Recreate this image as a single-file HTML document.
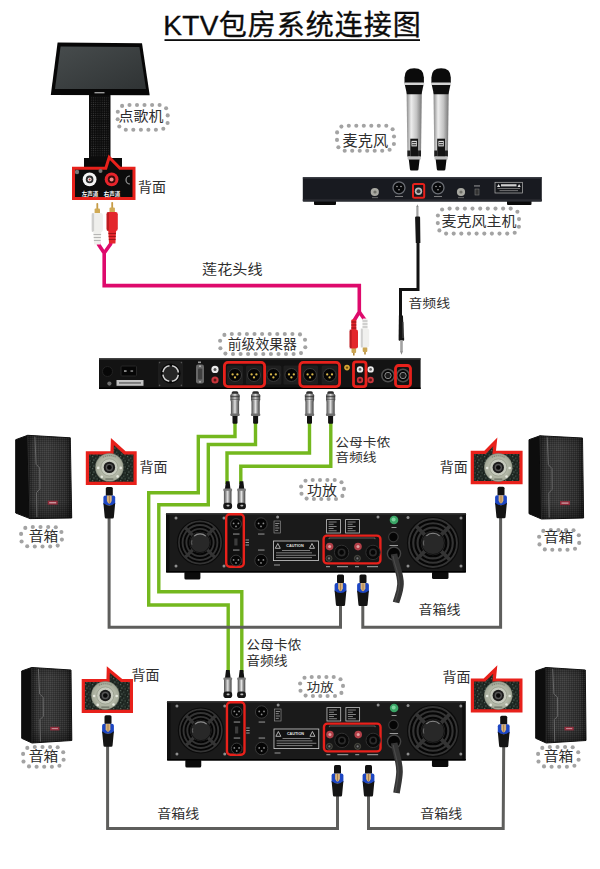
<!DOCTYPE html>
<html lang="zh-CN">
<head>
<meta charset="utf-8">
<title>KTV包房系统连接图</title>
<style>
html,body{margin:0;padding:0;background:#fff;}
body{width:600px;height:869px;overflow:hidden;font-family:"Liberation Sans","Noto Sans CJK SC",sans-serif;}
svg{display:block;}
.t{font-family:"Liberation Sans","Noto Sans CJK SC",sans-serif;fill:#2e2e2e;}
.green{fill:none;stroke:#74b81e;stroke-width:3.4;stroke-linejoin:miter;}
.gray{fill:none;stroke:#5e5e5c;stroke-width:3;stroke-linejoin:miter;}
.mag{fill:none;stroke:#de0a6c;stroke-width:3.6;stroke-linejoin:miter;}
.blk{fill:none;stroke:#111;stroke-width:3;stroke-linejoin:miter;}
.red{fill:none;stroke:#e8211b;stroke-width:2.8;}
</style>
</head>
<body>
<svg width="600" height="869" viewBox="0 0 600 869">
<defs>
<linearGradient id="silver" x1="0" x2="1" y1="0" y2="0">
<stop offset="0" stop-color="#4e4e4e"/><stop offset=".3" stop-color="#a4a4a4"/><stop offset=".5" stop-color="#e2e2e2"/><stop offset=".68" stop-color="#9a9a9a"/><stop offset="1" stop-color="#454545"/>
</linearGradient>
<linearGradient id="micbody" x1="0" x2="1" y1="0" y2="0">
<stop offset="0" stop-color="#8a8a8a"/><stop offset=".3" stop-color="#ededed"/><stop offset=".65" stop-color="#c4c4c4"/><stop offset="1" stop-color="#777"/>
</linearGradient>
<radialGradient id="plate" cx=".5" cy=".5" r=".5">
<stop offset="0" stop-color="#bcc1b1"/><stop offset=".7" stop-color="#b2b7a6"/><stop offset=".92" stop-color="#a4aa99"/><stop offset="1" stop-color="#7c8274"/>
</radialGradient>
<pattern id="mesh" width="2" height="2" patternUnits="userSpaceOnUse"><rect width="2" height="2" fill="#000" fill-opacity="0"/><rect width="1" height="1" fill="#fff" fill-opacity=".07"/><rect x="1" y="1" width="1" height="1" fill="#000" fill-opacity=".18"/></pattern>
<pattern id="speck" width="7" height="6" patternUnits="userSpaceOnUse"><rect width="7" height="6" fill="#1f2823"/><rect x="1" y="0" width="1.2" height="1.2" fill="#4f5f55"/><rect x="4" y="1.6" width="1.4" height="1" fill="#43524a"/><rect x="2.4" y="3.4" width="1" height="1.3" fill="#5a6a60"/><rect x="5.6" y="4.4" width="1.1" height="1.1" fill="#4a5a50"/><rect x="0" y="4.6" width="1" height="1" fill="#10150f"/><rect x="3.2" y="0.4" width="1" height="1" fill="#0f140f"/></pattern>
<pattern id="standmesh" width="2.2" height="2.2" patternUnits="userSpaceOnUse"><rect width="2.2" height="2.2" fill="#0c0c0c"/><circle cx="1.1" cy="1.1" r=".55" fill="#3a3a3a"/></pattern>
<linearGradient id="grille" x1="0" x2="1" y1="0" y2="0">
<stop offset="0" stop-color="#1c1c1c"/><stop offset=".14" stop-color="#353535"/><stop offset=".45" stop-color="#3b3b3b"/><stop offset=".85" stop-color="#2d2d2d"/><stop offset="1" stop-color="#151515"/>
</linearGradient>
<linearGradient id="vshade" x1="0" x2="0" y1="0" y2="1"><stop offset="0" stop-color="#000" stop-opacity=".25"/><stop offset=".12" stop-color="#000" stop-opacity="0"/><stop offset=".8" stop-color="#000" stop-opacity="0"/><stop offset="1" stop-color="#000" stop-opacity=".4"/></linearGradient>
<linearGradient id="screen" x1="0" x2="1" y1="0" y2="1">
<stop offset="0" stop-color="#474c4d"/><stop offset="1" stop-color="#2f3334"/>
</linearGradient>
</defs>
<rect width="600" height="869" fill="#fff"/>

<text x="163.2" y="34.5" font-size="28" class="t" style="fill:#0c0c0c;stroke:#0c0c0c;stroke-width:.35px"><tspan letter-spacing="0.4">KTV</tspan><tspan letter-spacing="1.0">包房系统连接图</tspan></text>
<rect x="164.5" y="39.2" width="255.5" height="1.8" fill="#0c0c0c"/>
<path class="mag" d="M98,240 L98.6,244.5 L104.2,253 L104.2,285.6 L359.3,285.6 L359.3,312 L353.8,321"/>
<path class="mag" d="M111.5,239 L110.6,244 L104.2,253"/>
<path class="mag" d="M359.3,312 L365,320"/>
<path class="blk" d="M418,236 L418,289.5 L400.5,289.5 L400.5,320"/>
<path class="green" d="M235,422 L235,436.5 L198.3,436.5 L198.3,492.8 L148.7,492.8 L148.7,605 L228.2,605 L228.2,672"/>
<path class="green" d="M255.5,422 L255.5,444.5 L208.3,444.5 L208.3,504.8 L158.8,504.8 L158.8,591.8 L241.8,591.8 L241.8,672"/>
<path class="green" d="M309.5,422 L309.5,453 L227,453 L227,484"/>
<path class="green" d="M330.8,422 L330.8,466.2 L240.8,466.2 L240.8,484"/>
<path class="gray" d="M109.1,515 L109.1,627.3 L340.5,627.3 L340.5,604"/>
<path class="gray" d="M362.8,604 L362.8,627.3 L500.6,627.3 L500.6,515"/>
<path class="gray" d="M107.6,744 L107.6,828.6 L337.5,828.6 L337.5,795"/>
<path class="gray" d="M368.5,795 L368.5,828.6 L503.2,828.6 L503.7,745"/>
<rect x="84" y="158" width="38" height="9" fill="#0a0a0a"/>
<rect x="89" y="94" width="21.5" height="68" fill="#0c0c0c"/>
<rect x="90.5" y="97" width="18.5" height="60" fill="url(#standmesh)"/>
<polygon points="57.6,42.6 142,43.2 149.7,95.2 50.8,95" fill="#070707"/>
<polygon points="60.6,46.6 139.4,47 146,89 55,89" fill="url(#screen)"/>
<rect x="94.5" y="92" width="10" height="1.4" fill="#9a9a9a"/>
<path d="M73.5,168.2 L105.8,168.2 L109.2,157.3 L120,168.2 L134,168.2 L134,198.5 L73.5,198.5 Z" fill="#0c0c0c" stroke="#e8211b" stroke-width="3" stroke-linejoin="miter"/>
<circle cx="89.6" cy="179.4" r="6.9" fill="#f4f4f4"/><circle cx="89.6" cy="179.4" r="3.8" fill="#2a2a2a"/><circle cx="89.6" cy="179.4" r="2" fill="#e9e9e9"/><circle cx="89.6" cy="179.4" r="1" fill="#b33"/>
<circle cx="111.6" cy="179.4" r="6.9" fill="#e8242b"/><circle cx="111.6" cy="179.4" r="3.8" fill="#3a0c0c"/><circle cx="111.6" cy="179.4" r="2" fill="#f08a86"/>
<circle cx="77" cy="172" r="2.2" fill="#777"/><circle cx="100.5" cy="171" r="2" fill="#777"/><path d="M130,176 a4,4 0 0 0 0,8" fill="none" stroke="#999" stroke-width="1.2"/>
<text x="90" y="195.5" font-size="5.5" font-weight="bold" text-anchor="middle" fill="#fff" font-family='"Liberation Sans","Noto Sans CJK SC",sans-serif'>左声道</text>
<text x="112" y="195.5" font-size="5.5" font-weight="bold" text-anchor="middle" fill="#fff" font-family='"Liberation Sans","Noto Sans CJK SC",sans-serif'>右声道</text>
<text transform="translate(152.1,187.5) scale(1,0.95)" font-size="14" text-anchor="middle" dominant-baseline="central" class="t">背面</text>
<g fill="#a3a3a3"><circle cx="129.5" cy="105.0" r="2.05"/><circle cx="137.0" cy="105.0" r="2.05"/><circle cx="144.5" cy="105.0" r="2.05"/><circle cx="152.1" cy="105.0" r="2.05"/><circle cx="159.6" cy="105.0" r="2.05"/><circle cx="166.1" cy="108.2" r="2.05"/><circle cx="167.7" cy="115.4" r="2.05"/><circle cx="167.6" cy="123.0" r="2.05"/><circle cx="163.3" cy="128.8" r="2.05"/><circle cx="155.9" cy="129.7" r="2.05"/><circle cx="148.4" cy="129.7" r="2.05"/><circle cx="140.9" cy="129.7" r="2.05"/><circle cx="133.3" cy="129.7" r="2.05"/><circle cx="125.8" cy="129.7" r="2.05"/><circle cx="119.3" cy="126.5" r="2.05"/><circle cx="117.7" cy="119.3" r="2.05"/><circle cx="117.8" cy="111.7" r="2.05"/><circle cx="122.1" cy="105.9" r="2.05"/></g>
<text transform="translate(141,116.6) scale(1,0.9)" font-size="15" text-anchor="middle" dominant-baseline="central" class="t">点歌机</text>
<g transform="translate(97.3,203)"><rect x="-0.9" y="0" width="1.8" height="7" rx=".8" fill="#c59b45"/><rect x="-2.7" y="5.5" width="5.4" height="5.5" rx="1" fill="#d0aa55"/><rect x="-5.6" y="10" width="11.2" height="19" rx="2.2" fill="#efefec"/><rect x="-5.6" y="10" width="2.4" height="19" rx="1" fill="#a8a8a8" opacity=".45"/><path d="M-4,28 h8 l-0.8,13.5 h-6.4 z" fill="#efefec"/><rect x="-3.8" y="31" width="7.6" height="1" fill="#a8a8a8" opacity=".8"/><rect x="-3.6" y="34" width="7.2" height="1" fill="#a8a8a8" opacity=".8"/><rect x="-3.4" y="37" width="6.8" height="1" fill="#a8a8a8" opacity=".8"/></g>
<g transform="translate(112.2,202)"><rect x="-0.9" y="0" width="1.8" height="7" rx=".8" fill="#c59b45"/><rect x="-2.7" y="5.5" width="5.4" height="5.5" rx="1" fill="#d0aa55"/><rect x="-5.6" y="10" width="11.2" height="19" rx="2.2" fill="#e3262b"/><rect x="-5.6" y="10" width="2.4" height="19" rx="1" fill="#8e1015" opacity=".45"/><path d="M-4,28 h8 l-0.8,13.5 h-6.4 z" fill="#e3262b"/><rect x="-3.8" y="31" width="7.6" height="1" fill="#8e1015" opacity=".8"/><rect x="-3.6" y="34" width="7.2" height="1" fill="#8e1015" opacity=".8"/><rect x="-3.4" y="37" width="6.8" height="1" fill="#8e1015" opacity=".8"/></g>
<text transform="translate(232.3,269.3) scale(1,0.88)" font-size="15.1" text-anchor="middle" dominant-baseline="central" class="t">莲花头线</text>
<g transform="translate(414.2,0)"><path d="M-7.6,92 L7.6,92 L6.8,156.5 L-6.8,156.5 Z" fill="url(#micbody)"/><path d="M-9.7,84 L-9.7,77.5 Q-9.7,68.2 0,68.2 Q9.7,68.2 9.7,77.5 L9.7,84 Z" fill="#0b0b0b"/><path d="M-9.4,84.5 L9.4,84.5 L7.3,94.3 L-7.3,94.3 Z" fill="#0d0d0d"/><rect x="-10.1" y="82.6" width="20.2" height="2.3" rx="1" fill="#d4d4d4"/><rect x="-3.9" y="138.7" width="7.8" height="18" fill="#141414"/><rect x="-2.7" y="140.8" width="5.4" height="5.6" fill="#dadada"/><rect x="-2" y="142" width="4" height="1.1" fill="#333"/><rect x="-2" y="144.2" width="4" height="1.1" fill="#333"/><rect x="-6.8" y="150.5" width="2.9" height="6" fill="#1f1f1f"/><rect x="3.9" y="150.5" width="2.9" height="6" fill="#1f1f1f"/><rect x="-6.6" y="156.4" width="13.2" height="3.4" rx="1" fill="#bdbdbd"/><path d="M-5.4,159.6 L5.4,159.6 L4.3,169 Q4.3,170.6 2.8,170.6 L-2.8,170.6 Q-4.3,170.6 -4.3,169 Z" fill="#0b0b0b"/></g>
<g transform="translate(441.1,0)"><path d="M-7.6,92 L7.6,92 L6.8,156.5 L-6.8,156.5 Z" fill="url(#micbody)"/><path d="M-9.7,84 L-9.7,77.5 Q-9.7,68.2 0,68.2 Q9.7,68.2 9.7,77.5 L9.7,84 Z" fill="#0b0b0b"/><path d="M-9.4,84.5 L9.4,84.5 L7.3,94.3 L-7.3,94.3 Z" fill="#0d0d0d"/><rect x="-10.1" y="82.6" width="20.2" height="2.3" rx="1" fill="#d4d4d4"/><rect x="-3.9" y="138.7" width="7.8" height="18" fill="#141414"/><rect x="-2.7" y="140.8" width="5.4" height="5.6" fill="#dadada"/><rect x="-2" y="142" width="4" height="1.1" fill="#333"/><rect x="-2" y="144.2" width="4" height="1.1" fill="#333"/><rect x="-6.8" y="150.5" width="2.9" height="6" fill="#1f1f1f"/><rect x="3.9" y="150.5" width="2.9" height="6" fill="#1f1f1f"/><rect x="-6.6" y="156.4" width="13.2" height="3.4" rx="1" fill="#bdbdbd"/><path d="M-5.4,159.6 L5.4,159.6 L4.3,169 Q4.3,170.6 2.8,170.6 L-2.8,170.6 Q-4.3,170.6 -4.3,169 Z" fill="#0b0b0b"/></g>
<g fill="#a3a3a3"><circle cx="348.8" cy="125.7" r="2.05"/><circle cx="356.3" cy="125.7" r="2.05"/><circle cx="363.8" cy="125.7" r="2.05"/><circle cx="371.3" cy="125.7" r="2.05"/><circle cx="378.8" cy="125.7" r="2.05"/><circle cx="386.3" cy="125.7" r="2.05"/><circle cx="392.6" cy="129.2" r="2.05"/><circle cx="394.0" cy="136.5" r="2.05"/><circle cx="393.9" cy="144.0" r="2.05"/><circle cx="389.6" cy="149.8" r="2.05"/><circle cx="382.2" cy="150.7" r="2.05"/><circle cx="374.7" cy="150.7" r="2.05"/><circle cx="367.2" cy="150.7" r="2.05"/><circle cx="359.7" cy="150.7" r="2.05"/><circle cx="352.2" cy="150.7" r="2.05"/><circle cx="344.7" cy="150.7" r="2.05"/><circle cx="338.4" cy="147.2" r="2.05"/><circle cx="337.0" cy="139.9" r="2.05"/><circle cx="337.1" cy="132.4" r="2.05"/><circle cx="341.4" cy="126.6" r="2.05"/></g>
<text transform="translate(365.3,140.2) scale(1,1.0)" font-size="15.2" text-anchor="middle" dominant-baseline="central" class="t">麦克风</text>
<rect x="314" y="199" width="22" height="6" rx="1" fill="#0a0a0a"/><rect x="507" y="199" width="24.5" height="6" rx="1" fill="#0a0a0a"/>
<rect x="302.8" y="177" width="239" height="24.5" rx="1" fill="#181a20"/><rect x="302.8" y="199.3" width="239" height="2.2" fill="#2b2d33"/>
<rect x="302.8" y="177" width="239" height="1.5" fill="#3a3d44"/>
<circle cx="374.8" cy="192" r="4.1" fill="#a9a9a2"/><circle cx="375" cy="192" r="1.6" fill="#6f6f68"/>
<circle cx="461" cy="192" r="4.1" fill="#a9a9a2"/><circle cx="461" cy="192" r="1.6" fill="#6f6f68"/>
<rect x="372" y="197.3" width="6" height="0.8" fill="#777"/><rect x="458" y="197.3" width="6" height="0.8" fill="#777"/>
<circle cx="399" cy="187.8" r="6" fill="#08090b" stroke="#6a6d73" stroke-width="1.3"/>
<circle cx="397" cy="186.5" r=".8" fill="#aaa"/><circle cx="401" cy="186.5" r=".8" fill="#aaa"/><circle cx="399" cy="189.7" r=".8" fill="#aaa"/>
<rect x="395" y="196" width="8" height="0.9" fill="#888"/>
<circle cx="438" cy="187.8" r="6" fill="#08090b" stroke="#6a6d73" stroke-width="1.3"/>
<circle cx="436" cy="186.5" r=".8" fill="#aaa"/><circle cx="440" cy="186.5" r=".8" fill="#aaa"/><circle cx="438" cy="189.7" r=".8" fill="#aaa"/>
<rect x="434" y="196" width="8" height="0.9" fill="#888"/>
<rect x="413" y="184" width="11.2" height="13.8" rx="1.5" fill="#14161b" stroke="#e8211b" stroke-width="2"/>
<circle cx="418.5" cy="191.2" r="3.7" fill="#b9b9b9"/><circle cx="418.5" cy="191.2" r="2" fill="#3a3a3a"/>
<rect x="475" y="189" width="4" height="6" fill="#333" stroke="#777" stroke-width=".6"/><rect x="474" y="185.5" width="6" height="0.9" fill="#aaa"/>
<rect x="495" y="182.3" width="27.5" height="10.7" fill="#15171b" stroke="#b5b5b5" stroke-width=".7"/>
<rect x="501" y="184.2" width="15.5" height="2.2" fill="#cfcfcf"/><path d="M497,187 l1.6,-3 l1.6,3z M517.5,187 l1.6,-3 l1.6,3z" fill="#e6e6e6"/>
<rect x="497.5" y="188.2" width="22.5" height="0.8" fill="#8a8a8a"/><rect x="499.5" y="190.3" width="18.5" height="0.8" fill="#8a8a8a"/>
<rect x="416.3" y="206.5" width="2.2" height="11" fill="#a2a2a2"/><path d="M416.3,207 L417.4,204.2 L418.5,207z" fill="#8a8a8a"/>
<path d="M415.1,217.5 q0,-1 1,-1 h3 q1,0 1,1 l0.3,25.5 h-4.6 z" fill="#151515"/>
<g fill="#a3a3a3"><circle cx="449.6" cy="208.6" r="2.05"/><circle cx="457.3" cy="208.6" r="2.05"/><circle cx="464.9" cy="208.6" r="2.05"/><circle cx="472.5" cy="208.6" r="2.05"/><circle cx="480.2" cy="208.6" r="2.05"/><circle cx="487.8" cy="208.6" r="2.05"/><circle cx="495.5" cy="208.6" r="2.05"/><circle cx="503.1" cy="208.6" r="2.05"/><circle cx="510.7" cy="208.6" r="2.05"/><circle cx="517.4" cy="211.8" r="2.05"/><circle cx="519.0" cy="219.1" r="2.05"/><circle cx="518.9" cy="226.7" r="2.05"/><circle cx="514.7" cy="232.7" r="2.05"/><circle cx="507.2" cy="233.6" r="2.05"/><circle cx="499.5" cy="233.6" r="2.05"/><circle cx="491.9" cy="233.6" r="2.05"/><circle cx="484.3" cy="233.6" r="2.05"/><circle cx="476.6" cy="233.6" r="2.05"/><circle cx="469.0" cy="233.6" r="2.05"/><circle cx="461.3" cy="233.6" r="2.05"/><circle cx="453.7" cy="233.6" r="2.05"/><circle cx="446.1" cy="233.6" r="2.05"/><circle cx="439.4" cy="230.4" r="2.05"/><circle cx="437.8" cy="223.1" r="2.05"/><circle cx="437.9" cy="215.5" r="2.05"/><circle cx="442.1" cy="209.5" r="2.05"/></g>
<text transform="translate(479,220.8) scale(1,0.94)" font-size="15" text-anchor="middle" dominant-baseline="central" class="t">麦克风主机</text>
<text transform="translate(429.3,304) scale(1,0.9)" font-size="13.9" text-anchor="middle" dominant-baseline="central" class="t">音频线</text>
<g transform="translate(353.8,355.5) scale(1,-1)"><rect x="-0.8" y="0" width="1.6" height="4" fill="#b58a3a"/><rect x="-2.3" y="2.5" width="4.6" height="5" rx="1" fill="#caa552"/><rect x="-4.2" y="7" width="8.4" height="19" rx="2" fill="#e3262b"/><rect x="-4.2" y="7" width="2" height="19" fill="#8e1015" opacity=".5"/><rect x="-2.5" y="25" width="5" height="11" rx="1" fill="#e3262b"/><rect x="-2.5" y="27" width="5" height="1" fill="#8e1015"/><rect x="-2.5" y="30" width="5" height="1" fill="#8e1015"/><rect x="-2.5" y="33" width="5" height="1" fill="#8e1015"/></g>
<g transform="translate(365,354.5) scale(1,-1)"><rect x="-0.8" y="0" width="1.6" height="4" fill="#b58a3a"/><rect x="-2.3" y="2.5" width="4.6" height="5" rx="1" fill="#caa552"/><rect x="-4.2" y="7" width="8.4" height="19" rx="2" fill="#f0f0ee"/><rect x="-4.2" y="7" width="2" height="19" fill="#b0b0b0" opacity=".5"/><rect x="-2.5" y="25" width="5" height="11" rx="1" fill="#f0f0ee"/><rect x="-2.5" y="27" width="5" height="1" fill="#b0b0b0"/><rect x="-2.5" y="30" width="5" height="1" fill="#b0b0b0"/><rect x="-2.5" y="33" width="5" height="1" fill="#b0b0b0"/></g>
<path d="M398.9,315.5 h4 l1.3,24.2 q0,1 -1,1 h-3.6 q-1,0 -1,-1 z" fill="#151515"/><rect x="402.6" y="322" width="0.9" height="16" fill="#5a5a5a"/>
<rect x="400.2" y="340" width="2.6" height="12" fill="#a2a2a2"/><path d="M400.2,351.5 L401.5,354.8 L402.8,351.5z" fill="#8a8a8a"/>
<rect x="99" y="358.3" width="321.6" height="30.7" fill="#131313"/>
<rect x="99" y="358.3" width="321.6" height="1.4" fill="#3a3a3a"/>
<rect x="99" y="387.5" width="321.6" height="1.5" fill="#000"/>
<circle cx="107.5" cy="371.5" r="5" fill="#070707" stroke="#222" stroke-width="1"/>
<circle cx="109.4" cy="383.6" r="2.1" fill="#6f6f6f"/>
<rect x="121" y="366" width="15.5" height="10" rx="1" fill="#060606" stroke="#262626" stroke-width="1"/><rect x="124" y="370.3" width="2.6" height="1.5" fill="#a8a8a8"/><rect x="130.5" y="370.3" width="2.6" height="1.5" fill="#8a8a8a"/>
<rect x="116.5" y="380" width="27" height="5.8" fill="#c2c2c2"/><rect x="119" y="382.2" width="22" height="1.5" fill="#6a6a6a"/>
<rect x="158" y="361" width="25" height="26" rx="1.5" fill="#1d1d1d"/>
<circle cx="170.6" cy="373.5" r="10" fill="#080808"/><circle cx="170.6" cy="373.5" r="7.8" fill="#262626" stroke="#d2d2d2" stroke-width="1.5" stroke-dasharray="9.6 2.65" stroke-dashoffset="-1.3"/>
<circle cx="159.6" cy="362.6" r="0.8" fill="#555"/>
<circle cx="181.4" cy="362.6" r="0.8" fill="#555"/>
<circle cx="159.6" cy="385.4" r="0.8" fill="#555"/>
<circle cx="181.4" cy="385.4" r="0.8" fill="#555"/>
<rect x="196" y="364.5" width="8" height="19" rx="2" fill="#686868"/><rect x="198" y="368.5" width="4.2" height="11" rx="1" fill="#404040"/><circle cx="200" cy="366.2" r="0.9" fill="#bbb"/><circle cx="200" cy="381.8" r="0.9" fill="#bbb"/><rect x="198" y="361.5" width="3" height="1.6" fill="#999"/>
<circle cx="215" cy="369.4" r="3.6" fill="#e9e9e9"/><circle cx="215" cy="369.4" r="1.5" fill="#555"/>
<circle cx="215" cy="380" r="3.6" fill="#c9363c"/><circle cx="215" cy="380" r="1.5" fill="#5a1515"/>
<rect x="227" y="365.5" width="16" height="19" rx="1.5" fill="#1f1f1f"/>
<circle cx="235" cy="375" r="6.5" fill="#050505" stroke="#3a3a3a" stroke-width="1"/>
<circle cx="232.6" cy="374.4" r="1.15" fill="#d9b84a"/>
<circle cx="237.4" cy="374.4" r="1.15" fill="#d9b84a"/>
<circle cx="235" cy="377.4" r="1.15" fill="#d9b84a"/>
<rect x="246" y="365.5" width="16" height="19" rx="1.5" fill="#1f1f1f"/>
<circle cx="254" cy="375" r="6.5" fill="#050505" stroke="#3a3a3a" stroke-width="1"/>
<circle cx="251.6" cy="374.4" r="1.15" fill="#d9b84a"/>
<circle cx="256.4" cy="374.4" r="1.15" fill="#d9b84a"/>
<circle cx="254" cy="377.4" r="1.15" fill="#d9b84a"/>
<rect x="265.4" y="365.5" width="16" height="19" rx="1.5" fill="#1f1f1f"/>
<circle cx="273.4" cy="375" r="6.5" fill="#050505" stroke="#3a3a3a" stroke-width="1"/>
<circle cx="271.0" cy="374.4" r="1.15" fill="#d9b84a"/>
<circle cx="275.79999999999995" cy="374.4" r="1.15" fill="#d9b84a"/>
<circle cx="273.4" cy="377.4" r="1.15" fill="#d9b84a"/>
<rect x="283.4" y="365.5" width="16" height="19" rx="1.5" fill="#1f1f1f"/>
<circle cx="291.4" cy="375" r="6.5" fill="#050505" stroke="#3a3a3a" stroke-width="1"/>
<circle cx="289.0" cy="374.4" r="1.15" fill="#d9b84a"/>
<circle cx="293.79999999999995" cy="374.4" r="1.15" fill="#d9b84a"/>
<circle cx="291.4" cy="377.4" r="1.15" fill="#d9b84a"/>
<rect x="302" y="365.5" width="16" height="19" rx="1.5" fill="#1f1f1f"/>
<circle cx="310" cy="375" r="6.5" fill="#050505" stroke="#3a3a3a" stroke-width="1"/>
<circle cx="307.6" cy="374.4" r="1.15" fill="#d9b84a"/>
<circle cx="312.4" cy="374.4" r="1.15" fill="#d9b84a"/>
<circle cx="310" cy="377.4" r="1.15" fill="#d9b84a"/>
<rect x="321.6" y="365.5" width="16" height="19" rx="1.5" fill="#1f1f1f"/>
<circle cx="329.6" cy="375" r="6.5" fill="#050505" stroke="#3a3a3a" stroke-width="1"/>
<circle cx="327.20000000000005" cy="374.4" r="1.15" fill="#d9b84a"/>
<circle cx="332.0" cy="374.4" r="1.15" fill="#d9b84a"/>
<circle cx="329.6" cy="377.4" r="1.15" fill="#d9b84a"/>
<circle cx="347" cy="367.6" r="2.8" fill="#d8a735"/><circle cx="347" cy="367.6" r="1.2" fill="#6b4d10"/>
<circle cx="360" cy="369.4" r="3.2" fill="#ececec"/><circle cx="360" cy="369.4" r="1.4" fill="#666"/>
<circle cx="360" cy="380" r="3.2" fill="#c9363c"/><circle cx="360" cy="380" r="1.4" fill="#5a1515"/>
<circle cx="370.6" cy="369.4" r="3.2" fill="#ececec"/><circle cx="370.6" cy="369.4" r="1.4" fill="#666"/>
<circle cx="370.6" cy="380" r="3.2" fill="#c9363c"/><circle cx="370.6" cy="380" r="1.4" fill="#5a1515"/>
<circle cx="388" cy="375.5" r="6.2" fill="#050505" stroke="#4f4f4f" stroke-width="1.5"/><circle cx="388" cy="375.5" r="3.2" fill="#1a1a1a" stroke="#8a8a8a" stroke-width="1"/>
<circle cx="403" cy="375.5" r="6.2" fill="#050505" stroke="#4f4f4f" stroke-width="1.5"/><circle cx="403" cy="375.5" r="3.2" fill="#1a1a1a" stroke="#8a8a8a" stroke-width="1"/>
<rect x="224.4" y="362.4" width="40.2" height="24.2" rx="3.5" class="red"/>
<rect x="299.8" y="362.4" width="39.8" height="24.2" rx="3.5" class="red"/>
<rect x="353.5" y="361.9" width="12.5" height="24.7" rx="2.5" class="red"/>
<rect x="395.5" y="365.5" width="15" height="21" rx="3" class="red"/>
<g fill="#a3a3a3"><circle cx="231.8" cy="334.0" r="2.05"/><circle cx="239.4" cy="334.0" r="2.05"/><circle cx="246.9" cy="334.0" r="2.05"/><circle cx="254.5" cy="334.0" r="2.05"/><circle cx="262.1" cy="334.0" r="2.05"/><circle cx="269.7" cy="334.0" r="2.05"/><circle cx="277.3" cy="334.0" r="2.05"/><circle cx="284.8" cy="334.0" r="2.05"/><circle cx="292.4" cy="334.0" r="2.05"/><circle cx="300.0" cy="334.4" r="2.05"/><circle cx="305.0" cy="339.7" r="2.05"/><circle cx="305.3" cy="347.2" r="2.05"/><circle cx="301.0" cy="353.1" r="2.05"/><circle cx="293.6" cy="354.0" r="2.05"/><circle cx="286.0" cy="354.0" r="2.05"/><circle cx="278.5" cy="354.0" r="2.05"/><circle cx="270.9" cy="354.0" r="2.05"/><circle cx="263.3" cy="354.0" r="2.05"/><circle cx="255.7" cy="354.0" r="2.05"/><circle cx="248.1" cy="354.0" r="2.05"/><circle cx="240.6" cy="354.0" r="2.05"/><circle cx="233.0" cy="354.0" r="2.05"/><circle cx="225.4" cy="353.6" r="2.05"/><circle cx="220.4" cy="348.3" r="2.05"/><circle cx="220.1" cy="340.8" r="2.05"/><circle cx="224.4" cy="334.9" r="2.05"/></g>
<text transform="translate(262.3,345) scale(1,0.96)" font-size="13.8" text-anchor="middle" dominant-baseline="central" class="t">前级效果器</text>
<g transform="translate(235,391.2)"><rect x="-2.5" y="24" width="5" height="8.5" rx="1" fill="#111"/><rect x="-3.3" y="0" width="6.6" height="4" rx="1.6" fill="#2c2c2c"/><rect x="-4.6" y="2.6" width="9.2" height="7.6" rx="1.5" fill="url(#silver)"/><rect x="-4.6" y="4.6" width="9.2" height="1.5" fill="#333" opacity=".75"/><rect x="-4.6" y="7.6" width="9.2" height="1.1" fill="#444" opacity=".6"/><rect x="-4.1" y="9.8" width="8.2" height="13.4" fill="url(#silver)"/><rect x="-4.7" y="22.2" width="9.4" height="2.6" rx="1" fill="#6c6c6c"/></g>
<g transform="translate(255.6,391.2)"><rect x="-2.5" y="24" width="5" height="8.5" rx="1" fill="#111"/><rect x="-3.3" y="0" width="6.6" height="4" rx="1.6" fill="#2c2c2c"/><rect x="-4.6" y="2.6" width="9.2" height="7.6" rx="1.5" fill="url(#silver)"/><rect x="-4.6" y="4.6" width="9.2" height="1.5" fill="#333" opacity=".75"/><rect x="-4.6" y="7.6" width="9.2" height="1.1" fill="#444" opacity=".6"/><rect x="-4.1" y="9.8" width="8.2" height="13.4" fill="url(#silver)"/><rect x="-4.7" y="22.2" width="9.4" height="2.6" rx="1" fill="#6c6c6c"/></g>
<g transform="translate(309.5,391.2)"><rect x="-2.5" y="24" width="5" height="8.5" rx="1" fill="#111"/><rect x="-3.3" y="0" width="6.6" height="4" rx="1.6" fill="#2c2c2c"/><rect x="-4.6" y="2.6" width="9.2" height="7.6" rx="1.5" fill="url(#silver)"/><rect x="-4.6" y="4.6" width="9.2" height="1.5" fill="#333" opacity=".75"/><rect x="-4.6" y="7.6" width="9.2" height="1.1" fill="#444" opacity=".6"/><rect x="-4.1" y="9.8" width="8.2" height="13.4" fill="url(#silver)"/><rect x="-4.7" y="22.2" width="9.4" height="2.6" rx="1" fill="#6c6c6c"/></g>
<g transform="translate(330.6,391.2)"><rect x="-2.5" y="24" width="5" height="8.5" rx="1" fill="#111"/><rect x="-3.3" y="0" width="6.6" height="4" rx="1.6" fill="#2c2c2c"/><rect x="-4.6" y="2.6" width="9.2" height="7.6" rx="1.5" fill="url(#silver)"/><rect x="-4.6" y="4.6" width="9.2" height="1.5" fill="#333" opacity=".75"/><rect x="-4.6" y="7.6" width="9.2" height="1.1" fill="#444" opacity=".6"/><rect x="-4.1" y="9.8" width="8.2" height="13.4" fill="url(#silver)"/><rect x="-4.7" y="22.2" width="9.4" height="2.6" rx="1" fill="#6c6c6c"/></g>
<g transform="translate(227.7,481.2)"><path d="M-1.8,0 h3.6 l1,8 h-5.6 z" fill="#111"/><rect x="-4.4" y="7.4" width="8.8" height="2.6" rx="1" fill="#7a7a7a"/><rect x="-3.8" y="9.6" width="7.6" height="13" fill="url(#silver)"/><rect x="-4.4" y="21.6" width="8.8" height="6.4" rx="2.8" fill="#161616"/><rect x="-1.2" y="23.6" width="3" height="1.6" rx=".8" fill="#bdbdbd"/></g>
<g transform="translate(241.5,481.2)"><path d="M-1.8,0 h3.6 l1,8 h-5.6 z" fill="#111"/><rect x="-4.4" y="7.4" width="8.8" height="2.6" rx="1" fill="#7a7a7a"/><rect x="-3.8" y="9.6" width="7.6" height="13" fill="url(#silver)"/><rect x="-4.4" y="21.6" width="8.8" height="6.4" rx="2.8" fill="#161616"/><rect x="-1.2" y="23.6" width="3" height="1.6" rx=".8" fill="#bdbdbd"/></g>
<g transform="translate(227.8,670)"><path d="M-1.8,0 h3.6 l1,8 h-5.6 z" fill="#111"/><rect x="-4.4" y="7.4" width="8.8" height="2.6" rx="1" fill="#7a7a7a"/><rect x="-3.8" y="9.6" width="7.6" height="13" fill="url(#silver)"/><rect x="-4.4" y="21.6" width="8.8" height="6.4" rx="2.8" fill="#161616"/><rect x="-1.2" y="23.6" width="3" height="1.6" rx=".8" fill="#bdbdbd"/></g>
<g transform="translate(241.5,670)"><path d="M-1.8,0 h3.6 l1,8 h-5.6 z" fill="#111"/><rect x="-4.4" y="7.4" width="8.8" height="2.6" rx="1" fill="#7a7a7a"/><rect x="-3.8" y="9.6" width="7.6" height="13" fill="url(#silver)"/><rect x="-4.4" y="21.6" width="8.8" height="6.4" rx="2.8" fill="#161616"/><rect x="-1.2" y="23.6" width="3" height="1.6" rx=".8" fill="#bdbdbd"/></g>
<text transform="translate(335.2,442.3) scale(1,0.9)" font-size="13.8" text-anchor="start" dominant-baseline="central" class="t">公母卡侬</text>
<text transform="translate(335.2,457.7) scale(1,0.9)" font-size="13.8" text-anchor="start" dominant-baseline="central" class="t">音频线</text>
<text transform="translate(246.2,645) scale(1,0.92)" font-size="13.8" text-anchor="start" dominant-baseline="central" class="t">公母卡侬</text>
<text transform="translate(246.2,660.3) scale(1,0.92)" font-size="13.8" text-anchor="start" dominant-baseline="central" class="t">音频线</text>
<g transform="translate(166,513) scale(1.0,1)">
<rect x="18.4" y="58.5" width="16" height="8" rx="1.5" fill="#0b0b0b"/>
<rect x="266" y="58.5" width="16.5" height="7.5" rx="1.5" fill="#0b0b0b"/>
<rect x="0" y="0" width="300" height="59.5" rx="1.2" fill="#0e0e0e"/>
<rect x="3.5" y="1.5" width="293" height="56.5" fill="#1a1a1a"/>
<rect x="0" y="0" width="300" height="1.5" fill="#3a3a3a"/>
<rect x="0" y="58.0" width="300" height="1.5" fill="#000"/>
<circle cx="34" cy="29.5" r="22.5" fill="#343434"/>
<circle cx="34" cy="29.5" r="22.5" fill="none" stroke="#0a0a0a" stroke-width="1.2"/>
<circle cx="34" cy="29.5" r="19.35" fill="none" stroke="#050505" stroke-width="1.91"/>
<circle cx="34" cy="29.5" r="15.52" fill="none" stroke="#050505" stroke-width="1.91"/>
<circle cx="34" cy="29.5" r="11.70" fill="none" stroke="#050505" stroke-width="1.91"/>
<line x1="40.4" y1="35.9" x2="49.1" y2="44.6" stroke="#343434" stroke-width="3.38"/>
<line x1="27.6" y1="35.9" x2="18.9" y2="44.6" stroke="#343434" stroke-width="3.38"/>
<line x1="27.6" y1="23.1" x2="18.9" y2="14.4" stroke="#343434" stroke-width="3.38"/>
<line x1="40.4" y1="23.1" x2="49.1" y2="14.4" stroke="#343434" stroke-width="3.38"/>
<circle cx="34" cy="29.5" r="10.12" fill="#282828" stroke="#111" stroke-width="1"/>
<path d="M28.15,23.20 a8.55,8.55 0 0 1 11.70,0" fill="none" stroke="#8a8a8a" stroke-width="1.1"/>
<path d="M25.90,27.25 a8.55,8.55 0 0 0 0,4.50" fill="none" stroke="#6a6a6a" stroke-width="0.9"/>
<circle cx="267" cy="30" r="25.5" fill="#343434"/>
<circle cx="267" cy="30" r="25.5" fill="none" stroke="#0a0a0a" stroke-width="1.2"/>
<circle cx="267" cy="30" r="21.93" fill="none" stroke="#050505" stroke-width="2.17"/>
<circle cx="267" cy="30" r="17.59" fill="none" stroke="#050505" stroke-width="2.17"/>
<circle cx="267" cy="30" r="13.26" fill="none" stroke="#050505" stroke-width="2.17"/>
<line x1="274.2" y1="37.2" x2="284.1" y2="47.1" stroke="#343434" stroke-width="3.82"/>
<line x1="259.8" y1="37.2" x2="249.9" y2="47.1" stroke="#343434" stroke-width="3.82"/>
<line x1="259.8" y1="22.8" x2="249.9" y2="12.9" stroke="#343434" stroke-width="3.82"/>
<line x1="274.2" y1="22.8" x2="284.1" y2="12.9" stroke="#343434" stroke-width="3.82"/>
<circle cx="267" cy="30" r="11.47" fill="#282828" stroke="#111" stroke-width="1"/>
<path d="M260.37,22.86 a9.69,9.69 0 0 1 13.26,0" fill="none" stroke="#8a8a8a" stroke-width="1.1"/>
<path d="M257.82,27.45 a9.69,9.69 0 0 0 0,5.10" fill="none" stroke="#6a6a6a" stroke-width="0.9"/>
<circle cx="10" cy="5" r="1.5" fill="#8f8f8f"/>
<circle cx="10" cy="53" r="1.5" fill="#8f8f8f"/>
<circle cx="58" cy="5" r="1.5" fill="#8f8f8f"/>
<circle cx="58" cy="53" r="1.5" fill="#8f8f8f"/>
<circle cx="111.6" cy="4" r="1.5" fill="#8f8f8f"/>
<circle cx="212" cy="4" r="1.5" fill="#8f8f8f"/>
<circle cx="242" cy="4.5" r="1.5" fill="#8f8f8f"/>
<circle cx="242" cy="53" r="1.5" fill="#8f8f8f"/>
<circle cx="295" cy="5" r="1.5" fill="#8f8f8f"/>
<circle cx="295" cy="53" r="1.5" fill="#8f8f8f"/>
<rect x="60.2" y="1.2" width="17.6" height="52.6" rx="3.5" fill="#101010" stroke="#e8211b" stroke-width="2.4"/>
<circle cx="70" cy="11" r="5.4" fill="#050505" stroke="#3a3a3a" stroke-width="1"/>
<circle cx="67.6" cy="10.4" r="0.9" fill="#8c8c8c"/>
<circle cx="72.4" cy="10.4" r="0.9" fill="#8c8c8c"/>
<circle cx="70" cy="13.4" r="0.9" fill="#8c8c8c"/>
<circle cx="70" cy="47.5" r="5.4" fill="#050505" stroke="#3a3a3a" stroke-width="1"/>
<circle cx="67.6" cy="46.9" r="0.9" fill="#8c8c8c"/>
<circle cx="72.4" cy="46.9" r="0.9" fill="#8c8c8c"/>
<circle cx="70" cy="49.9" r="0.9" fill="#8c8c8c"/>
<rect x="68.3" y="25.5" width="3.2" height="7" fill="#3c3c3c"/>
<rect x="67" y="20.5" width="6.5" height="1.1" fill="#8e8e8e"/>
<rect x="67" y="36.5" width="6.5" height="1.1" fill="#8e8e8e"/>
<rect x="79.5" y="26.5" width="3.5" height="1" fill="#9a9a9a"/><rect x="79.5" y="29" width="3.5" height="1" fill="#9a9a9a"/><rect x="79.5" y="31.5" width="3.5" height="1" fill="#9a9a9a"/>
<circle cx="95" cy="11" r="6.2" fill="#050505" stroke="#3a3a3a" stroke-width="1"/>
<circle cx="92.6" cy="10.4" r="0.9" fill="#8c8c8c"/>
<circle cx="97.4" cy="10.4" r="0.9" fill="#8c8c8c"/>
<circle cx="95" cy="13.4" r="0.9" fill="#8c8c8c"/>
<circle cx="95" cy="47.5" r="6.2" fill="#050505" stroke="#3a3a3a" stroke-width="1"/>
<circle cx="92.6" cy="46.9" r="0.9" fill="#8c8c8c"/>
<circle cx="97.4" cy="46.9" r="0.9" fill="#8c8c8c"/>
<circle cx="95" cy="49.9" r="0.9" fill="#8c8c8c"/>
<rect x="92" y="20.5" width="6.5" height="1.1" fill="#8e8e8e"/>
<rect x="92" y="36.5" width="6.5" height="1.1" fill="#8e8e8e"/>
<rect x="108" y="8" width="6.5" height="12" fill="none" stroke="#9a9a9a" stroke-width=".6"/>
<rect x="109.2" y="10.0" width="4.2" height="0.8" fill="#a0a0a0"/>
<rect x="109.2" y="12.3" width="3.0" height="0.8" fill="#a0a0a0"/>
<rect x="109.2" y="14.6" width="4.2" height="0.8" fill="#a0a0a0"/>
<rect x="109.2" y="16.9" width="3.0" height="0.8" fill="#a0a0a0"/>
<rect x="107.4" y="28" width="45" height="19.6" fill="#121212" stroke="#cfcfcf" stroke-width="0.8"/>
<path d="M109.3,35.3 l2.5,-4.8 l2.5,4.8 z" fill="none" stroke="#d8d8d8" stroke-width="0.8"/>
<path d="M143.5,35.3 l2.5,-4.8 l2.5,4.8 z" fill="none" stroke="#d8d8d8" stroke-width="0.8"/>
<text x="129" y="34" font-size="3.8" font-weight="bold" fill="#e4e4e4" text-anchor="middle" font-family='"Liberation Sans", "Noto Sans CJK SC", sans-serif'>CAUTION</text>
<rect x="116" y="37.0" width="28" height="0.9" fill="#8a8a8a"/>
<rect x="110" y="39.4" width="36" height="0.9" fill="#8a8a8a"/>
<rect x="110" y="41.8" width="40" height="0.9" fill="#8a8a8a"/>
<rect x="110" y="44.2" width="36" height="0.9" fill="#8a8a8a"/>
<rect x="108" y="51.5" width="6" height="1" fill="#9a9a9a"/>
<rect x="160.6" y="6.6" width="13.8" height="13.4" fill="#121212" stroke="#c4c4c4" stroke-width="0.8"/>
<rect x="162.6" y="8.6" width="8" height="0.8" fill="#a0a0a0"/>
<rect x="162.6" y="10.8" width="5" height="0.8" fill="#a0a0a0"/>
<rect x="162.6" y="13.0" width="8" height="0.8" fill="#a0a0a0"/>
<rect x="162.6" y="15.2" width="5" height="0.8" fill="#a0a0a0"/>
<rect x="162.6" y="17.4" width="8" height="0.8" fill="#a0a0a0"/>
<rect x="179.6" y="6.6" width="13.8" height="13.4" fill="#121212" stroke="#c4c4c4" stroke-width="0.8"/>
<rect x="181.6" y="8.6" width="8" height="0.8" fill="#a0a0a0"/>
<rect x="181.6" y="10.8" width="5" height="0.8" fill="#a0a0a0"/>
<rect x="181.6" y="13.0" width="8" height="0.8" fill="#a0a0a0"/>
<rect x="181.6" y="15.2" width="5" height="0.8" fill="#a0a0a0"/>
<rect x="181.6" y="17.4" width="8" height="0.8" fill="#a0a0a0"/>
<rect x="157.6" y="22.6" width="56.8" height="27.8" rx="3.5" fill="#161616" stroke="#e8211b" stroke-width="2.4"/>
<path d="M163,26.2 v-1.2 h46 v1.2" fill="none" stroke="#8d8d8d" stroke-width=".6"/>
<circle cx="163.6" cy="33.6" r="3.8" fill="#b23f48"/><circle cx="163.6" cy="33.6" r="1.5" fill="#e2a3a3"/>
<circle cx="163.0" cy="45.4" r="3" fill="#262626" stroke="#55554a" stroke-width="0.8"/><circle cx="163.0" cy="45.4" r="1.1" fill="#777"/>
<circle cx="192" cy="33.6" r="3.8" fill="#b23f48"/><circle cx="192" cy="33.6" r="1.5" fill="#e2a3a3"/>
<circle cx="191.4" cy="45.4" r="3" fill="#262626" stroke="#55554a" stroke-width="0.8"/><circle cx="191.4" cy="45.4" r="1.1" fill="#777"/>
<circle cx="175.6" cy="39.4" r="7.2" fill="#090909" stroke="#303030" stroke-width="1"/>
<circle cx="175.6" cy="39.4" r="4" fill="#2b2b2b"/><circle cx="175.6" cy="39.4" r="2.3" fill="#050505"/>
<circle cx="207" cy="39.4" r="7.2" fill="#090909" stroke="#303030" stroke-width="1"/>
<circle cx="207" cy="39.4" r="4" fill="#2b2b2b"/><circle cx="207" cy="39.4" r="2.3" fill="#050505"/>
<rect x="160" y="53.2" width="4" height="1" fill="#a8a8a8"/>
<rect x="171" y="53.2" width="11" height="1" fill="#a8a8a8"/>
<rect x="189" y="53.2" width="4" height="1" fill="#a8a8a8"/>
<rect x="201" y="53.2" width="11" height="1" fill="#a8a8a8"/>
<circle cx="228" cy="7" r="4.3" fill="#3aa566"/><circle cx="227.6" cy="6.6" r="2" fill="#7fd4a0"/>
<rect x="225.5" y="14" width="5" height="1" fill="#9a9a9a"/>
<circle cx="227.4" cy="24" r="4.8" fill="#050505" stroke="#383838" stroke-width="1.2"/>
<rect x="223.5" y="32" width="8.5" height="1" fill="#9a9a9a"/>
<circle cx="228" cy="40.6" r="6.6" fill="#050505" stroke="#444" stroke-width="1.4"/>
</g>
<g transform="translate(167,701) scale(0.996,1)">
<rect x="18.4" y="58.5" width="16" height="8" rx="1.5" fill="#0b0b0b"/>
<rect x="266" y="58.5" width="16.5" height="7.5" rx="1.5" fill="#0b0b0b"/>
<rect x="0" y="0" width="300" height="59.5" rx="1.2" fill="#0e0e0e"/>
<rect x="3.5" y="1.5" width="293" height="56.5" fill="#1a1a1a"/>
<rect x="0" y="0" width="300" height="1.5" fill="#3a3a3a"/>
<rect x="0" y="58.0" width="300" height="1.5" fill="#000"/>
<circle cx="34" cy="29.5" r="22.5" fill="#343434"/>
<circle cx="34" cy="29.5" r="22.5" fill="none" stroke="#0a0a0a" stroke-width="1.2"/>
<circle cx="34" cy="29.5" r="19.35" fill="none" stroke="#050505" stroke-width="1.91"/>
<circle cx="34" cy="29.5" r="15.52" fill="none" stroke="#050505" stroke-width="1.91"/>
<circle cx="34" cy="29.5" r="11.70" fill="none" stroke="#050505" stroke-width="1.91"/>
<line x1="40.4" y1="35.9" x2="49.1" y2="44.6" stroke="#343434" stroke-width="3.38"/>
<line x1="27.6" y1="35.9" x2="18.9" y2="44.6" stroke="#343434" stroke-width="3.38"/>
<line x1="27.6" y1="23.1" x2="18.9" y2="14.4" stroke="#343434" stroke-width="3.38"/>
<line x1="40.4" y1="23.1" x2="49.1" y2="14.4" stroke="#343434" stroke-width="3.38"/>
<circle cx="34" cy="29.5" r="10.12" fill="#282828" stroke="#111" stroke-width="1"/>
<path d="M28.15,23.20 a8.55,8.55 0 0 1 11.70,0" fill="none" stroke="#8a8a8a" stroke-width="1.1"/>
<path d="M25.90,27.25 a8.55,8.55 0 0 0 0,4.50" fill="none" stroke="#6a6a6a" stroke-width="0.9"/>
<circle cx="267" cy="30" r="25.5" fill="#343434"/>
<circle cx="267" cy="30" r="25.5" fill="none" stroke="#0a0a0a" stroke-width="1.2"/>
<circle cx="267" cy="30" r="21.93" fill="none" stroke="#050505" stroke-width="2.17"/>
<circle cx="267" cy="30" r="17.59" fill="none" stroke="#050505" stroke-width="2.17"/>
<circle cx="267" cy="30" r="13.26" fill="none" stroke="#050505" stroke-width="2.17"/>
<line x1="274.2" y1="37.2" x2="284.1" y2="47.1" stroke="#343434" stroke-width="3.82"/>
<line x1="259.8" y1="37.2" x2="249.9" y2="47.1" stroke="#343434" stroke-width="3.82"/>
<line x1="259.8" y1="22.8" x2="249.9" y2="12.9" stroke="#343434" stroke-width="3.82"/>
<line x1="274.2" y1="22.8" x2="284.1" y2="12.9" stroke="#343434" stroke-width="3.82"/>
<circle cx="267" cy="30" r="11.47" fill="#282828" stroke="#111" stroke-width="1"/>
<path d="M260.37,22.86 a9.69,9.69 0 0 1 13.26,0" fill="none" stroke="#8a8a8a" stroke-width="1.1"/>
<path d="M257.82,27.45 a9.69,9.69 0 0 0 0,5.10" fill="none" stroke="#6a6a6a" stroke-width="0.9"/>
<circle cx="10" cy="5" r="1.5" fill="#8f8f8f"/>
<circle cx="10" cy="53" r="1.5" fill="#8f8f8f"/>
<circle cx="58" cy="5" r="1.5" fill="#8f8f8f"/>
<circle cx="58" cy="53" r="1.5" fill="#8f8f8f"/>
<circle cx="111.6" cy="4" r="1.5" fill="#8f8f8f"/>
<circle cx="212" cy="4" r="1.5" fill="#8f8f8f"/>
<circle cx="242" cy="4.5" r="1.5" fill="#8f8f8f"/>
<circle cx="242" cy="53" r="1.5" fill="#8f8f8f"/>
<circle cx="295" cy="5" r="1.5" fill="#8f8f8f"/>
<circle cx="295" cy="53" r="1.5" fill="#8f8f8f"/>
<rect x="60.2" y="1.2" width="17.6" height="52.6" rx="3.5" fill="#101010" stroke="#e8211b" stroke-width="2.4"/>
<circle cx="70" cy="11" r="5.4" fill="#050505" stroke="#3a3a3a" stroke-width="1"/>
<circle cx="67.6" cy="10.4" r="0.9" fill="#8c8c8c"/>
<circle cx="72.4" cy="10.4" r="0.9" fill="#8c8c8c"/>
<circle cx="70" cy="13.4" r="0.9" fill="#8c8c8c"/>
<circle cx="70" cy="47.5" r="5.4" fill="#050505" stroke="#3a3a3a" stroke-width="1"/>
<circle cx="67.6" cy="46.9" r="0.9" fill="#8c8c8c"/>
<circle cx="72.4" cy="46.9" r="0.9" fill="#8c8c8c"/>
<circle cx="70" cy="49.9" r="0.9" fill="#8c8c8c"/>
<rect x="68.3" y="25.5" width="3.2" height="7" fill="#3c3c3c"/>
<rect x="67" y="20.5" width="6.5" height="1.1" fill="#8e8e8e"/>
<rect x="67" y="36.5" width="6.5" height="1.1" fill="#8e8e8e"/>
<rect x="79.5" y="26.5" width="3.5" height="1" fill="#9a9a9a"/><rect x="79.5" y="29" width="3.5" height="1" fill="#9a9a9a"/><rect x="79.5" y="31.5" width="3.5" height="1" fill="#9a9a9a"/>
<circle cx="95" cy="11" r="6.2" fill="#050505" stroke="#3a3a3a" stroke-width="1"/>
<circle cx="92.6" cy="10.4" r="0.9" fill="#8c8c8c"/>
<circle cx="97.4" cy="10.4" r="0.9" fill="#8c8c8c"/>
<circle cx="95" cy="13.4" r="0.9" fill="#8c8c8c"/>
<circle cx="95" cy="47.5" r="6.2" fill="#050505" stroke="#3a3a3a" stroke-width="1"/>
<circle cx="92.6" cy="46.9" r="0.9" fill="#8c8c8c"/>
<circle cx="97.4" cy="46.9" r="0.9" fill="#8c8c8c"/>
<circle cx="95" cy="49.9" r="0.9" fill="#8c8c8c"/>
<rect x="92" y="20.5" width="6.5" height="1.1" fill="#8e8e8e"/>
<rect x="92" y="36.5" width="6.5" height="1.1" fill="#8e8e8e"/>
<rect x="108" y="8" width="6.5" height="12" fill="none" stroke="#9a9a9a" stroke-width=".6"/>
<rect x="109.2" y="10.0" width="4.2" height="0.8" fill="#a0a0a0"/>
<rect x="109.2" y="12.3" width="3.0" height="0.8" fill="#a0a0a0"/>
<rect x="109.2" y="14.6" width="4.2" height="0.8" fill="#a0a0a0"/>
<rect x="109.2" y="16.9" width="3.0" height="0.8" fill="#a0a0a0"/>
<rect x="107.4" y="28" width="45" height="19.6" fill="#121212" stroke="#cfcfcf" stroke-width="0.8"/>
<path d="M109.3,35.3 l2.5,-4.8 l2.5,4.8 z" fill="none" stroke="#d8d8d8" stroke-width="0.8"/>
<path d="M143.5,35.3 l2.5,-4.8 l2.5,4.8 z" fill="none" stroke="#d8d8d8" stroke-width="0.8"/>
<text x="129" y="34" font-size="3.8" font-weight="bold" fill="#e4e4e4" text-anchor="middle" font-family='"Liberation Sans", "Noto Sans CJK SC", sans-serif'>CAUTION</text>
<rect x="116" y="37.0" width="28" height="0.9" fill="#8a8a8a"/>
<rect x="110" y="39.4" width="36" height="0.9" fill="#8a8a8a"/>
<rect x="110" y="41.8" width="40" height="0.9" fill="#8a8a8a"/>
<rect x="110" y="44.2" width="36" height="0.9" fill="#8a8a8a"/>
<rect x="108" y="51.5" width="6" height="1" fill="#9a9a9a"/>
<rect x="160.6" y="6.6" width="13.8" height="13.4" fill="#121212" stroke="#c4c4c4" stroke-width="0.8"/>
<rect x="162.6" y="8.6" width="8" height="0.8" fill="#a0a0a0"/>
<rect x="162.6" y="10.8" width="5" height="0.8" fill="#a0a0a0"/>
<rect x="162.6" y="13.0" width="8" height="0.8" fill="#a0a0a0"/>
<rect x="162.6" y="15.2" width="5" height="0.8" fill="#a0a0a0"/>
<rect x="162.6" y="17.4" width="8" height="0.8" fill="#a0a0a0"/>
<rect x="179.6" y="6.6" width="13.8" height="13.4" fill="#121212" stroke="#c4c4c4" stroke-width="0.8"/>
<rect x="181.6" y="8.6" width="8" height="0.8" fill="#a0a0a0"/>
<rect x="181.6" y="10.8" width="5" height="0.8" fill="#a0a0a0"/>
<rect x="181.6" y="13.0" width="8" height="0.8" fill="#a0a0a0"/>
<rect x="181.6" y="15.2" width="5" height="0.8" fill="#a0a0a0"/>
<rect x="181.6" y="17.4" width="8" height="0.8" fill="#a0a0a0"/>
<rect x="157.6" y="22.6" width="56.8" height="27.8" rx="3.5" fill="#161616" stroke="#e8211b" stroke-width="2.4"/>
<path d="M163,26.2 v-1.2 h46 v1.2" fill="none" stroke="#8d8d8d" stroke-width=".6"/>
<circle cx="163.6" cy="33.6" r="3.8" fill="#b23f48"/><circle cx="163.6" cy="33.6" r="1.5" fill="#e2a3a3"/>
<circle cx="163.0" cy="45.4" r="3" fill="#262626" stroke="#55554a" stroke-width="0.8"/><circle cx="163.0" cy="45.4" r="1.1" fill="#777"/>
<circle cx="192" cy="33.6" r="3.8" fill="#b23f48"/><circle cx="192" cy="33.6" r="1.5" fill="#e2a3a3"/>
<circle cx="191.4" cy="45.4" r="3" fill="#262626" stroke="#55554a" stroke-width="0.8"/><circle cx="191.4" cy="45.4" r="1.1" fill="#777"/>
<circle cx="175.6" cy="39.4" r="7.2" fill="#090909" stroke="#303030" stroke-width="1"/>
<circle cx="175.6" cy="39.4" r="4" fill="#2b2b2b"/><circle cx="175.6" cy="39.4" r="2.3" fill="#050505"/>
<circle cx="207" cy="39.4" r="7.2" fill="#090909" stroke="#303030" stroke-width="1"/>
<circle cx="207" cy="39.4" r="4" fill="#2b2b2b"/><circle cx="207" cy="39.4" r="2.3" fill="#050505"/>
<rect x="160" y="53.2" width="4" height="1" fill="#a8a8a8"/>
<rect x="171" y="53.2" width="11" height="1" fill="#a8a8a8"/>
<rect x="189" y="53.2" width="4" height="1" fill="#a8a8a8"/>
<rect x="201" y="53.2" width="11" height="1" fill="#a8a8a8"/>
<circle cx="228" cy="7" r="4.3" fill="#3aa566"/><circle cx="227.6" cy="6.6" r="2" fill="#7fd4a0"/>
<rect x="225.5" y="14" width="5" height="1" fill="#9a9a9a"/>
<circle cx="227.4" cy="24" r="4.8" fill="#050505" stroke="#383838" stroke-width="1.2"/>
<rect x="223.5" y="32" width="8.5" height="1" fill="#9a9a9a"/>
<circle cx="228" cy="40.6" r="6.6" fill="#050505" stroke="#444" stroke-width="1.4"/>
</g>
<path d="M394,554 C396,566 400.8,574 400.5,584 C400.2,592 397.5,597 396,602.5" fill="none" stroke="#353535" stroke-width="6.6"/><path d="M393,556 C395,567 399.5,575 399.2,584 C399,592 396.5,597 395,602" fill="none" stroke="#4a4a4a" stroke-width="1.2"/>
<path d="M394.2,743 C396,754 399.8,762 399.5,772 C399.2,780 397.5,786 396.5,793" fill="none" stroke="#353535" stroke-width="6.6"/><path d="M393.2,745 C395,755 398.5,763 398.2,772 C398,780 396.5,786 395.5,792" fill="none" stroke="#4a4a4a" stroke-width="1.2"/>
<g fill="#a3a3a3"><circle cx="312.7" cy="480.0" r="2.05"/><circle cx="320.0" cy="480.0" r="2.05"/><circle cx="327.4" cy="480.0" r="2.05"/><circle cx="334.7" cy="480.0" r="2.05"/><circle cx="341.5" cy="482.2" r="2.05"/><circle cx="344.0" cy="488.9" r="2.05"/><circle cx="342.4" cy="495.9" r="2.05"/><circle cx="336.0" cy="499.0" r="2.05"/><circle cx="328.6" cy="499.0" r="2.05"/><circle cx="321.3" cy="499.0" r="2.05"/><circle cx="313.9" cy="499.0" r="2.05"/><circle cx="306.6" cy="498.6" r="2.05"/><circle cx="301.5" cy="493.8" r="2.05"/><circle cx="301.1" cy="486.5" r="2.05"/><circle cx="305.5" cy="480.8" r="2.05"/></g>
<text transform="translate(322,489.8) scale(1,0.9)" font-size="14.9" text-anchor="middle" dominant-baseline="central" class="t">功放</text>
<g fill="#a3a3a3"><circle cx="311.7" cy="677.0" r="2.05"/><circle cx="319.0" cy="677.0" r="2.05"/><circle cx="326.4" cy="677.0" r="2.05"/><circle cx="333.7" cy="677.0" r="2.05"/><circle cx="340.5" cy="679.2" r="2.05"/><circle cx="343.0" cy="685.9" r="2.05"/><circle cx="341.4" cy="692.9" r="2.05"/><circle cx="335.0" cy="696.0" r="2.05"/><circle cx="327.6" cy="696.0" r="2.05"/><circle cx="320.3" cy="696.0" r="2.05"/><circle cx="312.9" cy="696.0" r="2.05"/><circle cx="305.6" cy="695.6" r="2.05"/><circle cx="300.5" cy="690.8" r="2.05"/><circle cx="300.1" cy="683.5" r="2.05"/><circle cx="304.5" cy="677.8" r="2.05"/></g>
<text transform="translate(320,687.3) scale(1,0.88)" font-size="13.6" text-anchor="middle" dominant-baseline="central" class="t">功放</text>
<g transform="translate(340.5,574.5)"><rect x="-3.5" y="0" width="7" height="9" rx="1.5" fill="#111"/><rect x="-5.9" y="8.5" width="11.8" height="10" rx="2" fill="#1d46c2"/><path d="M-2.4,8.5 h4.8 v5.5 q-2.4,5.5 -4.8,0 z" fill="#d8b37c"/><rect x="-0.4" y="9" width="0.8" height="7" fill="#8a5a2a" opacity=".7"/><path d="M-5.9,16 q5.9,5 11.8,0 L4.6,30 q0,1.5 -1.5,1.5 h-6.2 q-1.5,0 -1.5,-1.5 z" fill="#141414"/></g>
<g transform="translate(363,574.5)"><rect x="-3.5" y="0" width="7" height="9" rx="1.5" fill="#111"/><rect x="-5.9" y="8.5" width="11.8" height="10" rx="2" fill="#1d46c2"/><path d="M-2.4,8.5 h4.8 v5.5 q-2.4,5.5 -4.8,0 z" fill="#d8b37c"/><rect x="-0.4" y="9" width="0.8" height="7" fill="#8a5a2a" opacity=".7"/><path d="M-5.9,16 q5.9,5 11.8,0 L4.6,30 q0,1.5 -1.5,1.5 h-6.2 q-1.5,0 -1.5,-1.5 z" fill="#141414"/></g>
<g transform="translate(337.5,765)"><rect x="-3.5" y="0" width="7" height="9" rx="1.5" fill="#111"/><rect x="-5.9" y="8.5" width="11.8" height="10" rx="2" fill="#1d46c2"/><path d="M-2.4,8.5 h4.8 v5.5 q-2.4,5.5 -4.8,0 z" fill="#d8b37c"/><rect x="-0.4" y="9" width="0.8" height="7" fill="#8a5a2a" opacity=".7"/><path d="M-5.9,16 q5.9,5 11.8,0 L4.6,30 q0,1.5 -1.5,1.5 h-6.2 q-1.5,0 -1.5,-1.5 z" fill="#141414"/></g>
<g transform="translate(368.5,765)"><rect x="-3.5" y="0" width="7" height="9" rx="1.5" fill="#111"/><rect x="-5.9" y="8.5" width="11.8" height="10" rx="2" fill="#1d46c2"/><path d="M-2.4,8.5 h4.8 v5.5 q-2.4,5.5 -4.8,0 z" fill="#d8b37c"/><rect x="-0.4" y="9" width="0.8" height="7" fill="#8a5a2a" opacity=".7"/><path d="M-5.9,16 q5.9,5 11.8,0 L4.6,30 q0,1.5 -1.5,1.5 h-6.2 q-1.5,0 -1.5,-1.5 z" fill="#141414"/></g>
<text transform="translate(439.5,610.2) scale(1,0.9)" font-size="14" text-anchor="middle" dominant-baseline="central" class="t">音箱线</text>
<text transform="translate(178.3,813.3) scale(1,0.9)" font-size="14" text-anchor="middle" dominant-baseline="central" class="t">音箱线</text>
<text transform="translate(441.3,813.8) scale(1,0.9)" font-size="14" text-anchor="middle" dominant-baseline="central" class="t">音箱线</text>
<polygon points="15.7,439.7 27.7,435.3 30,518.6 15.7,513" fill="#0d0d0d" stroke="#0d0d0d" stroke-width="1" stroke-linejoin="round"/>
<polygon points="27.7,435.3 70.3,437.8 71.7,518 30,518.6" fill="url(#grille)" stroke="#141414" stroke-width="1" stroke-linejoin="round"/>
<polygon points="27.7,435.3 70.3,437.8 71.7,518 30,518.6" fill="url(#mesh)"/>
<polygon points="27.7,435.3 70.3,437.8 71.7,518 30,518.6" fill="url(#vshade)"/>
<polyline points="27.7,435.3 30,518.6" stroke="#2e2e2e" stroke-width="0.8" fill="none"/>
<polyline points="34.9,436.8 36.1,464.3 39.7,468.0 39.9,488.9 36.5,492.6 36.9,517.1" fill="none" stroke="#676767" stroke-width="1"/>
<rect x="47.7" y="500.7" width="10.0" height="4.0" fill="#8f2c3b"/>
<rect x="49.2" y="502.0" width="7.0" height="1.4" fill="#c9959c"/>
<polygon points="529,439.7 540,435.8 541.5,519 529,513.7" fill="#0d0d0d" stroke="#0d0d0d" stroke-width="1" stroke-linejoin="round"/>
<polygon points="540,435.8 582.5,438 583.6,518 541.5,519" fill="url(#grille)" stroke="#141414" stroke-width="1" stroke-linejoin="round"/>
<polygon points="540,435.8 582.5,438 583.6,518 541.5,519" fill="url(#mesh)"/>
<polygon points="540,435.8 582.5,438 583.6,518 541.5,519" fill="url(#vshade)"/>
<polyline points="540,435.8 541.5,519" stroke="#2e2e2e" stroke-width="0.8" fill="none"/>
<polyline points="547.2,437.3 548.4,464.8 552.0,468.5 552.2,489.3 548.8,493.0 549.2,517.5" fill="none" stroke="#676767" stroke-width="1"/>
<rect x="560.0" y="501.1" width="10.0" height="4.0" fill="#8f2c3b"/>
<rect x="561.5" y="502.4" width="7.0" height="1.4" fill="#c9959c"/>
<polygon points="21.7,671 31.7,667.5 32,743 21.7,738.3" fill="#0d0d0d" stroke="#0d0d0d" stroke-width="1" stroke-linejoin="round"/>
<polygon points="31.7,667.5 71,670 71.8,740.5 32,743" fill="url(#grille)" stroke="#141414" stroke-width="1" stroke-linejoin="round"/>
<polygon points="31.7,667.5 71,670 71.8,740.5 32,743" fill="url(#mesh)"/>
<polygon points="31.7,667.5 71,670 71.8,740.5 32,743" fill="url(#vshade)"/>
<polyline points="31.7,667.5 32,743" stroke="#2e2e2e" stroke-width="0.8" fill="none"/>
<polyline points="38.4,669.0 39.6,693.9 43.2,697.3 43.4,716.2 40.0,719.6 40.4,741.5" fill="none" stroke="#676767" stroke-width="1"/>
<rect x="50.2" y="726.8" width="9.2" height="3.6" fill="#8f2c3b"/>
<rect x="51.7" y="728.1" width="6.2" height="1.0" fill="#c9959c"/>
<polygon points="535.7,671 546,667.5 546.2,743 535.7,738.3" fill="#0d0d0d" stroke="#0d0d0d" stroke-width="1" stroke-linejoin="round"/>
<polygon points="546,667.5 585.3,670 586,740.5 546.2,743" fill="url(#grille)" stroke="#141414" stroke-width="1" stroke-linejoin="round"/>
<polygon points="546,667.5 585.3,670 586,740.5 546.2,743" fill="url(#mesh)"/>
<polygon points="546,667.5 585.3,670 586,740.5 546.2,743" fill="url(#vshade)"/>
<polyline points="546,667.5 546.2,743" stroke="#2e2e2e" stroke-width="0.8" fill="none"/>
<polyline points="552.7,669.0 553.9,693.9 557.5,697.3 557.7,716.2 554.3,719.6 554.7,741.5" fill="none" stroke="#676767" stroke-width="1"/>
<rect x="564.5" y="726.8" width="9.2" height="3.6" fill="#8f2c3b"/>
<rect x="566.0" y="728.1" width="6.2" height="1.0" fill="#c9959c"/>
<g fill="#a3a3a3"><circle cx="32.8" cy="527.0" r="2.05"/><circle cx="40.5" cy="527.0" r="2.05"/><circle cx="48.2" cy="527.0" r="2.05"/><circle cx="55.8" cy="527.2" r="2.05"/><circle cx="61.4" cy="532.0" r="2.05"/><circle cx="61.9" cy="539.6" r="2.05"/><circle cx="57.7" cy="545.6" r="2.05"/><circle cx="50.2" cy="546.5" r="2.05"/><circle cx="42.5" cy="546.5" r="2.05"/><circle cx="34.8" cy="546.5" r="2.05"/><circle cx="27.2" cy="546.3" r="2.05"/><circle cx="21.6" cy="541.5" r="2.05"/><circle cx="21.1" cy="533.9" r="2.05"/><circle cx="25.3" cy="527.9" r="2.05"/></g>
<text transform="translate(43.5,536.6) scale(1,0.9)" font-size="14.8" text-anchor="middle" dominant-baseline="central" class="t">音箱</text>
<g fill="#a3a3a3"><circle cx="550.8" cy="530.0" r="2.05"/><circle cx="558.4" cy="530.0" r="2.05"/><circle cx="566.0" cy="530.0" r="2.05"/><circle cx="573.5" cy="530.3" r="2.05"/><circle cx="578.8" cy="535.3" r="2.05"/><circle cx="579.2" cy="542.9" r="2.05"/><circle cx="575.0" cy="548.8" r="2.05"/><circle cx="567.5" cy="549.7" r="2.05"/><circle cx="559.9" cy="549.7" r="2.05"/><circle cx="552.3" cy="549.7" r="2.05"/><circle cx="544.8" cy="549.4" r="2.05"/><circle cx="539.5" cy="544.4" r="2.05"/><circle cx="539.1" cy="536.8" r="2.05"/><circle cx="543.3" cy="530.9" r="2.05"/></g>
<text transform="translate(558.5,537) scale(1,0.9)" font-size="14.8" text-anchor="middle" dominant-baseline="central" class="t">音箱</text>
<g fill="#a3a3a3"><circle cx="34.8" cy="747.0" r="2.05"/><circle cx="42.5" cy="747.0" r="2.05"/><circle cx="50.1" cy="747.0" r="2.05"/><circle cx="57.7" cy="747.3" r="2.05"/><circle cx="63.2" cy="752.2" r="2.05"/><circle cx="63.6" cy="759.8" r="2.05"/><circle cx="59.4" cy="765.8" r="2.05"/><circle cx="51.9" cy="766.7" r="2.05"/><circle cx="44.2" cy="766.7" r="2.05"/><circle cx="36.6" cy="766.7" r="2.05"/><circle cx="29.0" cy="766.4" r="2.05"/><circle cx="23.5" cy="761.5" r="2.05"/><circle cx="23.1" cy="753.9" r="2.05"/><circle cx="27.3" cy="747.9" r="2.05"/></g>
<text transform="translate(43.5,756.5) scale(1,0.9)" font-size="14.8" text-anchor="middle" dominant-baseline="central" class="t">音箱</text>
<g fill="#a3a3a3"><circle cx="549.8" cy="747.0" r="2.05"/><circle cx="557.5" cy="747.0" r="2.05"/><circle cx="565.1" cy="747.0" r="2.05"/><circle cx="572.7" cy="747.3" r="2.05"/><circle cx="578.2" cy="752.2" r="2.05"/><circle cx="578.6" cy="759.8" r="2.05"/><circle cx="574.4" cy="765.8" r="2.05"/><circle cx="566.9" cy="766.7" r="2.05"/><circle cx="559.2" cy="766.7" r="2.05"/><circle cx="551.6" cy="766.7" r="2.05"/><circle cx="544.0" cy="766.4" r="2.05"/><circle cx="538.5" cy="761.5" r="2.05"/><circle cx="538.1" cy="753.9" r="2.05"/><circle cx="542.3" cy="747.9" r="2.05"/></g>
<text transform="translate(558.5,756.5) scale(1,0.9)" font-size="14.8" text-anchor="middle" dominant-baseline="central" class="t">音箱</text>
<path d="M87.4,452.8 L112,452.8 L112.4,441.5 L124.8,452.8 L135.1,452.8 L135.1,483.4 L87.4,483.4 Z" fill="url(#speck)" stroke="#e8211b" stroke-width="3.2" stroke-linejoin="miter"/>
<circle cx="109.4" cy="467.4" r="14.2" fill="url(#plate)"/>
<circle cx="109.4" cy="467.4" r="8.6" fill="#c6cabd" stroke="#979d8d" stroke-width="0.8"/>
<circle cx="109.4" cy="467.4" r="5.7" fill="#1c1c1c"/>
<circle cx="109.4" cy="467.4" r="3.7" fill="#555"/>
<circle cx="109.4" cy="467.4" r="2.3" fill="#0a0a0a"/>
<circle cx="98.2" cy="467.9" r="1.3" fill="#e6e9df"/>
<circle cx="120.80000000000001" cy="467.9" r="1.3" fill="#e6e9df"/>
<circle cx="101.80000000000001" cy="476.79999999999995" r="1.3" fill="#e6e9df"/>
<circle cx="117.60000000000001" cy="476.4" r="1.3" fill="#e6e9df"/>
<path d="M102.9,457.2 q6.5,-3.2 13,0" fill="none" stroke="#7d8376" stroke-width="1.1" stroke-dasharray="1.2 0.8"/>
<rect x="105.4" y="478.4" width="8" height="1.3" fill="#6f7568"/>
<path d="M472.3,452.3 L485,452.3 L495.3,441.8 L494.2,452.3 L521,452.3 L521,482.7 L472.3,482.7 Z" fill="url(#speck)" stroke="#e8211b" stroke-width="3.2" stroke-linejoin="miter"/>
<circle cx="498.3" cy="467.5" r="14.2" fill="url(#plate)"/>
<circle cx="498.3" cy="467.5" r="8.6" fill="#c6cabd" stroke="#979d8d" stroke-width="0.8"/>
<circle cx="498.3" cy="467.5" r="5.7" fill="#1c1c1c"/>
<circle cx="498.3" cy="467.5" r="3.7" fill="#555"/>
<circle cx="498.3" cy="467.5" r="2.3" fill="#0a0a0a"/>
<circle cx="487.1" cy="468.0" r="1.3" fill="#e6e9df"/>
<circle cx="509.7" cy="468.0" r="1.3" fill="#e6e9df"/>
<circle cx="490.7" cy="476.9" r="1.3" fill="#e6e9df"/>
<circle cx="506.5" cy="476.5" r="1.3" fill="#e6e9df"/>
<path d="M491.8,457.3 q6.5,-3.2 13,0" fill="none" stroke="#7d8376" stroke-width="1.1" stroke-dasharray="1.2 0.8"/>
<rect x="494.3" y="478.5" width="8" height="1.3" fill="#6f7568"/>
<path d="M83.3,680.5 L108,680.5 L108.3,669.5 L121.5,680.5 L131.4,680.5 L131.4,711.4 L83.3,711.4 Z" fill="url(#speck)" stroke="#e8211b" stroke-width="3.2" stroke-linejoin="miter"/>
<circle cx="105.3" cy="695.5" r="14.2" fill="url(#plate)"/>
<circle cx="105.3" cy="695.5" r="8.6" fill="#c6cabd" stroke="#979d8d" stroke-width="0.8"/>
<circle cx="105.3" cy="695.5" r="5.7" fill="#1c1c1c"/>
<circle cx="105.3" cy="695.5" r="3.7" fill="#555"/>
<circle cx="105.3" cy="695.5" r="2.3" fill="#0a0a0a"/>
<circle cx="94.1" cy="696.0" r="1.3" fill="#e6e9df"/>
<circle cx="116.7" cy="696.0" r="1.3" fill="#e6e9df"/>
<circle cx="97.7" cy="704.9" r="1.3" fill="#e6e9df"/>
<circle cx="113.5" cy="704.5" r="1.3" fill="#e6e9df"/>
<path d="M98.8,685.3 q6.5,-3.2 13,0" fill="none" stroke="#7d8376" stroke-width="1.1" stroke-dasharray="1.2 0.8"/>
<rect x="101.3" y="706.5" width="8" height="1.3" fill="#6f7568"/>
<path d="M472.4,680 L484.5,680 L495.3,669.5 L494.2,680 L520.9,680 L520.9,710.9 L472.4,710.9 Z" fill="url(#speck)" stroke="#e8211b" stroke-width="3.2" stroke-linejoin="miter"/>
<circle cx="498.3" cy="695.5" r="14.2" fill="url(#plate)"/>
<circle cx="498.3" cy="695.5" r="8.6" fill="#c6cabd" stroke="#979d8d" stroke-width="0.8"/>
<circle cx="498.3" cy="695.5" r="5.7" fill="#1c1c1c"/>
<circle cx="498.3" cy="695.5" r="3.7" fill="#555"/>
<circle cx="498.3" cy="695.5" r="2.3" fill="#0a0a0a"/>
<circle cx="487.1" cy="696.0" r="1.3" fill="#e6e9df"/>
<circle cx="509.7" cy="696.0" r="1.3" fill="#e6e9df"/>
<circle cx="490.7" cy="704.9" r="1.3" fill="#e6e9df"/>
<circle cx="506.5" cy="704.5" r="1.3" fill="#e6e9df"/>
<path d="M491.8,685.3 q6.5,-3.2 13,0" fill="none" stroke="#7d8376" stroke-width="1.1" stroke-dasharray="1.2 0.8"/>
<rect x="494.3" y="706.5" width="8" height="1.3" fill="#6f7568"/>
<text transform="translate(153.4,468) scale(1,0.94)" font-size="14" text-anchor="middle" dominant-baseline="central" class="t">背面</text>
<text transform="translate(453.8,467.3) scale(1,0.94)" font-size="14" text-anchor="middle" dominant-baseline="central" class="t">背面</text>
<text transform="translate(145.5,675.4) scale(1,0.94)" font-size="14" text-anchor="middle" dominant-baseline="central" class="t">背面</text>
<text transform="translate(456.4,677.2) scale(1,0.94)" font-size="14" text-anchor="middle" dominant-baseline="central" class="t">背面</text>
<g transform="translate(109.3,487)"><rect x="-3.5" y="0" width="7" height="9" rx="1.5" fill="#111"/><rect x="-5.9" y="8.5" width="11.8" height="10" rx="2" fill="#1d46c2"/><path d="M-2.4,8.5 h4.8 v5.5 q-2.4,5.5 -4.8,0 z" fill="#d8b37c"/><rect x="-0.4" y="9" width="0.8" height="7" fill="#8a5a2a" opacity=".7"/><path d="M-5.9,16 q5.9,5 11.8,0 L4.6,30 q0,1.5 -1.5,1.5 h-6.2 q-1.5,0 -1.5,-1.5 z" fill="#141414"/></g>
<g transform="translate(501,486.7)"><rect x="-3.5" y="0" width="7" height="9" rx="1.5" fill="#111"/><rect x="-5.9" y="8.5" width="11.8" height="10" rx="2" fill="#1d46c2"/><path d="M-2.4,8.5 h4.8 v5.5 q-2.4,5.5 -4.8,0 z" fill="#d8b37c"/><rect x="-0.4" y="9" width="0.8" height="7" fill="#8a5a2a" opacity=".7"/><path d="M-5.9,16 q5.9,5 11.8,0 L4.6,30 q0,1.5 -1.5,1.5 h-6.2 q-1.5,0 -1.5,-1.5 z" fill="#141414"/></g>
<g transform="translate(108,715.3)"><rect x="-3.5" y="0" width="7" height="9" rx="1.5" fill="#111"/><rect x="-5.9" y="8.5" width="11.8" height="10" rx="2" fill="#1d46c2"/><path d="M-2.4,8.5 h4.8 v5.5 q-2.4,5.5 -4.8,0 z" fill="#d8b37c"/><rect x="-0.4" y="9" width="0.8" height="7" fill="#8a5a2a" opacity=".7"/><path d="M-5.9,16 q5.9,5 11.8,0 L4.6,30 q0,1.5 -1.5,1.5 h-6.2 q-1.5,0 -1.5,-1.5 z" fill="#141414"/></g>
<g transform="translate(503.7,715.8)"><rect x="-3.5" y="0" width="7" height="9" rx="1.5" fill="#111"/><rect x="-5.9" y="8.5" width="11.8" height="10" rx="2" fill="#1d46c2"/><path d="M-2.4,8.5 h4.8 v5.5 q-2.4,5.5 -4.8,0 z" fill="#d8b37c"/><rect x="-0.4" y="9" width="0.8" height="7" fill="#8a5a2a" opacity=".7"/><path d="M-5.9,16 q5.9,5 11.8,0 L4.6,30 q0,1.5 -1.5,1.5 h-6.2 q-1.5,0 -1.5,-1.5 z" fill="#141414"/></g>
</svg>
</body>
</html>
